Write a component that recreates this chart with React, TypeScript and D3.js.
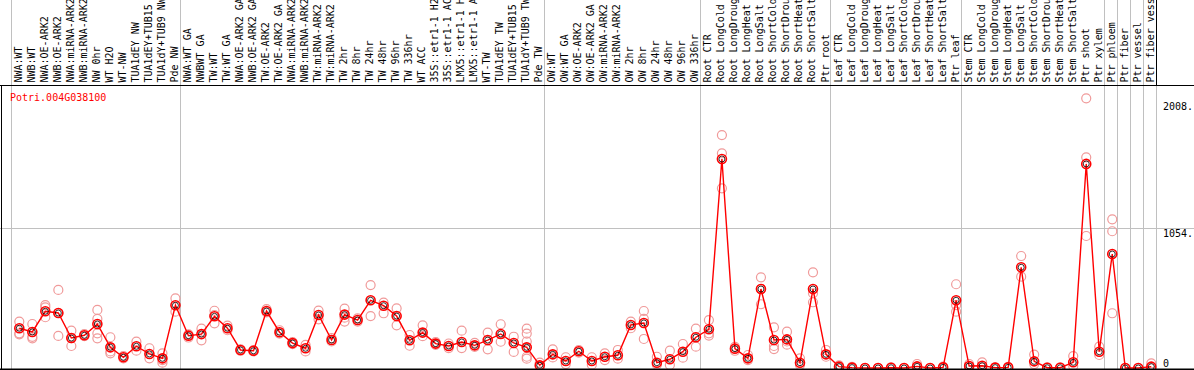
import * as d3 from "d3"

const geneId = "Potri.004G038100"

// sample labels, one array per block of the header
const nwLabels = [
  "NWA:WT", "NWB:WT", "NWA:OE-ARK2", "NWB:OE-ARK2", "NWA:miRNA-ARK2", "NWB:miRNA-ARK2",
  "NW 0hr", "WT H2O", "WT-NW", "TUA1dEY NW", "TUA1dEY+TUB15 NW", "TUA1dY+TUB9 NW", "Pde NW",
]
const twLabels = [
  "NWA:WT GA", "NWBWT GA", "TW:WT", "TW:WT GA", "NWA:OE-ARK2 GA", "NWB:OE-ARK2 GA",
  "TW:OE-ARK2", "TW:OE-ARK2 GA", "NWA:miRNA-ARK2", "NWB:miRNA-ARK2", "TW:miRNA-ARK2",
  "TW:miRNA-ARK2", "TW 2hr", "TW 8hr", "TW 24hr", "TW 48hr", "TW 96hr", "TW 336hr", "WT ACC",
  "35S::etr1-1 H2O", "35S::etr1-1 ACC", "LMX5::etr1-1 H2O", "LMX5::etr1-1 ACC", "WT-TW",
  "TUA1dEY TW", "TUA1dEY+TUB15 TW", "TUA1dY+TUB9 TW", "Pde TW",
]
const owLabels = [
  "OW:WT", "OW:WT GA", "OW:OE-ARK2", "OW:OE-ARK2 GA", "OW:miRNA-ARK2", "OW:miRNA-ARK2",
  "OW 2hr", "OW 8hr", "OW 24hr", "OW 48hr", "OW 96hr", "OW 336hr",
]
const rootLabels = [
  "Root CTR", "Root LongCold", "Root LongDrought", "Root LongHeat", "Root LongSalt",
  "Root ShortCold", "Root ShortDrought", "Root ShortHeat", "Root ShortSalt", "Ptr root",
]
const leafLabels = [
  "Leaf CTR", "Leaf LongCold", "Leaf LongDrought", "Leaf LongHeat", "Leaf LongSalt",
  "Leaf ShortCold", "Leaf ShortDrought", "Leaf ShortHeat", "Leaf ShortSalt", "Ptr leaf",
]
const stemLabels = [
  "Stem CTR", "Stem LongCold", "Stem LongDrought", "Stem LongHeat", "Stem LongSalt",
  "Stem ShortCold", "Stem ShortDrought", "Stem ShortHeat", "Stem ShortSalt", "Ptr shoot", "Ptr xylem",
]
const groups = [nwLabels, twLabels, owLabels, rootLabels, leafLabels, stemLabels,
  ["Ptr phloem"], ["Ptr fiber"], ["Ptr vessel"], ["Ptr fiber vessel"]]

// mean expression per sample
const nwMeans = [300, 272, 428, 415, 226, 247, 332, 156, 81, 164, 106, 73, 473]
const twMeans = [244, 256, 390, 300, 136, 130, 430, 270, 188, 149, 400, 211, 403, 362, 511, 470,
  392, 209, 267, 184, 166, 196, 171, 211, 257, 189, 156, 20]
const owMeans = [103, 53, 126, 53, 85, 96, 325, 340, 40, 66, 123, 232]
const rootMeans = [292, 1577, 146, 73, 596, 211, 216, 40, 596, 103]
const leafMeans = [10, 3, 0, 0, 2, 0, 12, 0, 5, 511]
const stemMeans = [15, 17, 3, 5, 760, 50, 2, 2, 43, 1540, 123]
const tissueMeans = [860, 0, 0, 10]

// individual replicates
const nwReps = [[350, 254, 262], [332, 224, 235], [475, 458, 383], [589, 242, 415], [282, 166, 226],
  [255, 240], [438, 370, 262, 224], [232, 111, 125], [90, 72], [199, 131], [149, 73],
  [111, 60, 40], [526, 425]]
const twReps = [[253, 230], [297, 209], [432, 337, 400], [320, 285], [140, 130], [125, 135],
  [445, 420], [285, 260], [195, 180], [175, 125], [433, 367], [225, 200], [448, 350, 380],
  [375, 350], [626, 392], [493, 413], [450, 322], [249, 168], [322, 240], [195, 175], [185, 150],
  [282, 150], [190, 160], [267, 141], [330, 198], [236, 121], [297, 260, 200, 85, 70], [40, 10]]
const owReps = [[141, 80], [81, 30], [135, 115], [81, 25], [111, 60], [136, 70], [350, 300],
  [430, 370, 219], [85, 25], [131, 23], [181, 78], [297, 161]]
const rootReps = [[362, 245, 262], [1758, 1620, 1356], [160, 130], [98, 60], [684, 481, 596],
  [307, 143, 166], [274, 176, 200], [73, 23], [722, 496, 564], [136, 85]]
const leafReps = [[20, 0], [8, 0], [0], [0], [5], [0], [30, 5], [0], [10], [632, 425, 475]]
const stemReps = [[30, 5], [43, 5], [5], [8], [845, 689], [101, 30], [5], [5], [90, 15],
  [2035, 1590, 996], [161, 98]]
const tissueReps = [[1122, 1032, 413], [0], [0], [35, 0]]

const yTicks = [0, 1054, 2008]

const font = "DejaVu Sans Mono, monospace"

export default function App() {
  const labels = groups.flat()
  const means = [...nwMeans, ...twMeans, ...owMeans, ...rootMeans, ...leafMeans, ...stemMeans, ...tissueMeans]
  const reps = [...nwReps, ...twReps, ...owReps, ...rootReps, ...leafReps, ...stemReps, ...tissueReps]

  const x = d3.scaleBand<number>().domain(d3.range(labels.length)).range([10.7, 1155.7])
  const y = d3.scaleLinear().domain([0, 2128]).range([368, 86])
  const cx = (i: number) => (x(i) ?? 0) + 8.6

  // group boundaries
  const bounds: number[] = [0]
  groups.forEach((g) => bounds.push(bounds[bounds.length - 1] + g.length))

  const line = d3.line<number>().x((_, i) => cx(i)).y((d) => y(d))

  return (
    <svg width={1194} height={370} style={{ position: "fixed", left: 0, top: 0, background: "#fff" }}>
      <rect width={1194} height={370} fill="#fff" />
      {/* group separators */}
      {bounds.map((b) => (
        <line key={b} x1={(x(b) ?? 1155.7) + 0.5} x2={(x(b) ?? 1155.7) + 0.5} y1={0} y2={369}
          stroke="#c0c0c0" shapeRendering="crispEdges" />
      ))}
      <line x1={1156.2} x2={1156.2} y1={0} y2={85} stroke="#000" shapeRendering="crispEdges" />
      {/* gridline */}
      <line x1={0} x2={1194} y1={Math.round(y(1054)) + 0.5} y2={Math.round(y(1054)) + 0.5}
        stroke="#c0c0c0" shapeRendering="crispEdges" />
      {/* frame */}
      <line x1={0} x2={1194} y1={85.5} y2={85.5} stroke="#000" shapeRendering="crispEdges" />
      <line x1={1.5} x2={1.5} y1={85} y2={370} stroke="#000" shapeRendering="crispEdges" />

      {/* sample labels */}
      <g fontFamily={font} fontSize={10} fill="#000">
        {labels.map((l, i) => (
          <text key={i} transform={`translate(${cx(i) + 2.5},82.5) rotate(-90)`}>{l}</text>
        ))}
      </g>

      <text x={10} y={100.5} fontFamily={font} fontSize={10} fill="#ff0000">{geneId}</text>

      {/* y axis labels */}
      <g fontFamily={font} fontSize={10} fill="#000">
        {yTicks.map((t) => (
          <text key={t} x={1163} y={Math.min(y(t) + 1, 359) + 7.5}>{t === 0 ? "0" : `${t}.`}</text>
        ))}
      </g>

      {/* replicates */}
      <g fill="none" stroke="#f09a9a" strokeWidth={1.2}>
        {reps.map((rs, i) => rs.map((r, j) => (
          <circle key={`${i}-${j}`} cx={cx(i)} cy={y(r)} r={4.5} />
        )))}
      </g>

      <path d={line(means) ?? ""} fill="none" stroke="#ff0000" strokeWidth={1.4} />

      {/* means */}
      <g fill="none">
        {means.map((m, i) => (
          <g key={i}>
            <circle cx={cx(i)} cy={y(m)} r={4.5} stroke="#ff0000" strokeWidth={1.6} />
            <circle cx={cx(i)} cy={y(m)} r={3} stroke="#000" strokeWidth={0.8} />
          </g>
        ))}
      </g>

      <line x1={0} x2={1194} y1={369.5} y2={369.5} stroke="#000" strokeWidth={2} />
    </svg>
  )
}
